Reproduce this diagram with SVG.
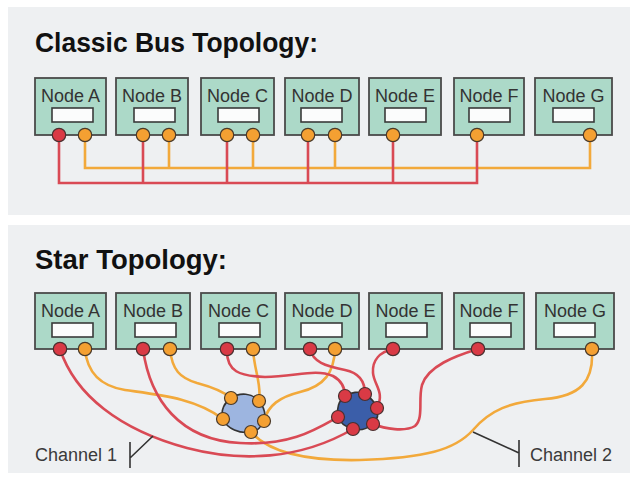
<svg xmlns="http://www.w3.org/2000/svg" width="630" height="481" viewBox="0 0 630 481">
<style>
.panel{fill:#eef0f2}
.title{font-family:"Liberation Sans",Arial,sans-serif;font-weight:bold;font-size:27px;fill:#111}
.box{fill:#acd9c8;stroke:#4a4a4a;stroke-width:1.8}
.win{fill:#fbfcfc;stroke:#3a3a3a;stroke-width:1.6}
.lbl{font-family:"Liberation Sans",Arial,sans-serif;font-size:18px;fill:#333;text-anchor:middle}
.ch{font-family:"Liberation Sans",Arial,sans-serif;font-size:18px;fill:#3a3a3a}
.pr{fill:#d93a45;stroke:#4a3030;stroke-width:1.2}
.po{fill:#f4a032;stroke:#4a3a2a;stroke-width:1.2}
.wr{fill:none;stroke:#d94a55;stroke-width:2.6}
.wo{fill:none;stroke:#f2a93b;stroke-width:2.6}
.ptr{fill:none;stroke:#333;stroke-width:1.6}
.hub1{fill:#9db5e0;stroke:#333;stroke-width:1.6}
.hub2{fill:#3b5ea9;stroke:#333;stroke-width:1.6}
</style>
<rect x="0" y="0" width="630" height="481" fill="#ffffff"/>
<rect class="panel" x="8" y="7" width="622" height="208"/>
<rect class="panel" x="8" y="225" width="622" height="248"/>
<text class="title" x="35" y="52" textLength="283" lengthAdjust="spacingAndGlyphs">Classic Bus Topology:</text>
<text class="title" x="35" y="269" textLength="192" lengthAdjust="spacingAndGlyphs">Star Topology:</text>

<g id="connectors">
  <!-- bus -->
  <path class="wo" d="M85,135 V168 H590 V135 M169,135 V168 M253,135 V168 M335,135 V168"/>
  <path class="wr" d="M59,135 V183 H477 V135 M143,135 V183 M227,135 V183 M308,135 V183 M393,135 V183"/>
  <!-- star orange -->
  <path class="wo" d="M85,349 C87,372 100,386 125,390 C160,395 195,398 223,419"/>
  <path class="wo" d="M170,349 C172,370 180,378 197,383 C212,387 224,392 231,398"/>
  <path class="wo" d="M253,349 C254,370 262,385 259,401"/>
  <path class="wo" d="M335,349 C334,372 325,386 300,392 C280,397 268,405 264,421"/>
  <path class="wo" d="M592,349 C594,382 580,396 545,399 C510,402 490,410 473,430 C455,450 425,458 360,460 C310,461 270,454 251,432"/>
  <!-- star red -->
  <path class="wr" d="M60,349 C75,395 120,430 187,448 C240,462 300,460 353,429"/>
  <path class="wr" d="M143,349 C150,400 180,440 240,443 C290,446 315,430 338,417"/>
  <path class="wr" d="M227,349 C226,372 240,376 265,377 C295,377 315,368 333,376 C342,381 345,388 345,396"/>
  <path class="wr" d="M310,349 C313,362 325,366 345,370 C360,373 365,383 365,394"/>
  <path class="wr" d="M393,349 C380,352 372,360 373,373 C374,385 385,392 377,408"/>
  <path class="wr" d="M478,349 C455,356 428,366 422,385 C418,400 424,418 415,426 C405,432 385,429 373,424"/>
  <!-- channel pointers -->
  <path class="ptr" d="M153,436 L130,458 M130,442 V468"/>
  <path class="ptr" d="M473,432 L519,453 M519,440 V467"/>
</g>
<text class="ch" x="35" y="461">Channel 1</text>
<text class="ch" x="530" y="461">Channel 2</text>

<!-- bus nodes -->
<g id="bus-node-a"><rect class="box" x="35" y="78" width="71" height="57"/><text class="lbl" x="70.5" y="102">Node A</text><rect class="win" x="52" y="108" width="41" height="14"/><circle class="pr" cx="59" cy="135" r="6.7"/><circle class="po" cx="85" cy="135" r="6.7"/></g>
<g id="bus-node-b"><rect class="box" x="116" y="78" width="72" height="57"/><text class="lbl" x="152" y="102">Node B</text><rect class="win" x="134" y="108" width="41" height="14"/><circle class="po" cx="143" cy="135" r="6.7"/><circle class="po" cx="169" cy="135" r="6.7"/></g>
<g id="bus-node-c"><rect class="box" x="201" y="78" width="73" height="57"/><text class="lbl" x="237.5" y="102">Node C</text><rect class="win" x="218" y="108" width="41" height="14"/><circle class="po" cx="227" cy="135" r="6.7"/><circle class="po" cx="253" cy="135" r="6.7"/></g>
<g id="bus-node-d"><rect class="box" x="285" y="78" width="74" height="57"/><text class="lbl" x="322" y="102">Node D</text><rect class="win" x="301" y="108" width="41" height="14"/><circle class="po" cx="308" cy="135" r="6.7"/><circle class="po" cx="335" cy="135" r="6.7"/></g>
<g id="bus-node-e"><rect class="box" x="369" y="78" width="72" height="57"/><text class="lbl" x="405" y="102">Node E</text><rect class="win" x="385" y="108" width="41" height="14"/><circle class="po" cx="393" cy="135" r="6.7"/></g>
<g id="bus-node-f"><rect class="box" x="454" y="78" width="70" height="57"/><text class="lbl" x="489" y="102">Node F</text><rect class="win" x="469" y="108" width="41" height="14"/><circle class="po" cx="477" cy="135" r="6.7"/></g>
<g id="bus-node-g"><rect class="box" x="535" y="78" width="77" height="57"/><text class="lbl" x="573.5" y="102">Node G</text><rect class="win" x="553" y="108" width="41" height="14"/><circle class="po" cx="590" cy="135" r="6.7"/></g>

<!-- star nodes -->
<g id="star-node-a"><rect class="box" x="35" y="293" width="71" height="56"/><text class="lbl" x="70.5" y="317">Node A</text><rect class="win" x="52" y="323" width="41" height="14"/><circle class="pr" cx="60" cy="349" r="6.7"/><circle class="po" cx="85" cy="349" r="6.7"/></g>
<g id="star-node-b"><rect class="box" x="116" y="293" width="74" height="56"/><text class="lbl" x="153" y="317">Node B</text><rect class="win" x="135" y="323" width="41" height="14"/><circle class="pr" cx="143" cy="349" r="6.7"/><circle class="po" cx="170" cy="349" r="6.7"/></g>
<g id="star-node-c"><rect class="box" x="201" y="293" width="75" height="56"/><text class="lbl" x="238.5" y="317">Node C</text><rect class="win" x="219" y="323" width="41" height="14"/><circle class="pr" cx="227" cy="349" r="6.7"/><circle class="po" cx="253" cy="349" r="6.7"/></g>
<g id="star-node-d"><rect class="box" x="285" y="293" width="74" height="56"/><text class="lbl" x="322" y="317">Node D</text><rect class="win" x="301" y="323" width="41" height="14"/><circle class="pr" cx="310" cy="349" r="6.7"/><circle class="po" cx="335" cy="349" r="6.7"/></g>
<g id="star-node-e"><rect class="box" x="369" y="293" width="73" height="56"/><text class="lbl" x="405.5" y="317">Node E</text><rect class="win" x="386" y="323" width="41" height="14"/><circle class="pr" cx="393" cy="349" r="6.7"/></g>
<g id="star-node-f"><rect class="box" x="454" y="293" width="70" height="56"/><text class="lbl" x="489" y="317">Node F</text><rect class="win" x="470" y="323" width="41" height="14"/><circle class="pr" cx="478" cy="349" r="6.7"/></g>
<g id="star-node-g"><rect class="box" x="536" y="293" width="78" height="56"/><text class="lbl" x="575" y="317">Node G</text><rect class="win" x="554" y="323" width="41" height="14"/><circle class="po" cx="592" cy="349" r="6.7"/></g>

<!-- hubs -->
<g id="hub-channel-1">
  <path class="hub1" d="M231,398 C240,392 252,393 259,401 C264,407 266,414 264,421 C261,427 257,432 251,432 C240,434 227,429 223,419 C220,410 225,402 231,398 Z"/>
  <circle class="po" cx="231" cy="398" r="6.5"/><circle class="po" cx="259" cy="401" r="6.5"/><circle class="po" cx="264" cy="421" r="6.5"/><circle class="po" cx="251" cy="432" r="6.5"/><circle class="po" cx="223" cy="419" r="6.5"/>
</g>
<g id="hub-channel-2">
  <path class="hub2" d="M345,396 C351,392 359,391 365,394 C371,398 375,402 377,408 C379,414 377,420 373,424 C367,429 360,431 353,429 C346,427 340,423 338,417 C336,409 339,400 345,396 Z"/>
  <circle class="pr" cx="345" cy="396" r="6.5"/><circle class="pr" cx="365" cy="394" r="6.5"/><circle class="pr" cx="377" cy="408" r="6.5"/><circle class="pr" cx="373" cy="424" r="6.5"/><circle class="pr" cx="353" cy="429" r="6.5"/><circle class="pr" cx="338" cy="417" r="6.5"/>
</g>
</svg>
